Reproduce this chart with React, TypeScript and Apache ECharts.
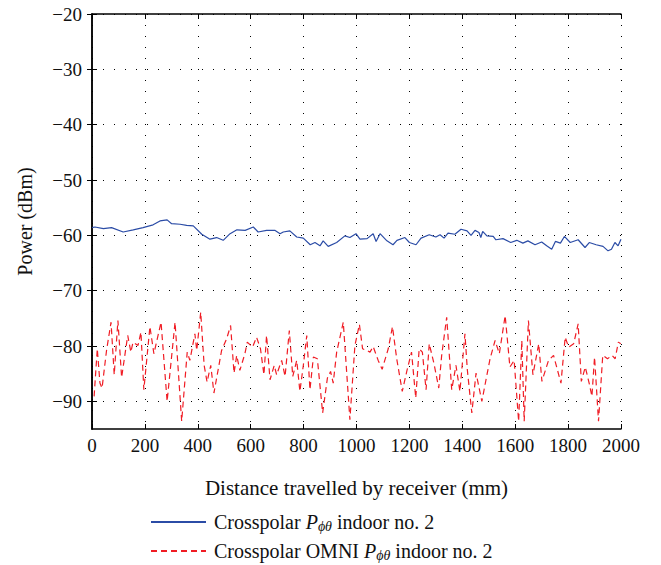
import React, { useEffect, useRef } from "react";
import * as echarts from "echarts";

const xTicks = [0, 200, 400, 600, 800, 1000, 1200, 1400, 1600, 1800, 2000];
const yTicks = [-20, -30, -40, -50, -60, -70, -80, -90];

const blueX = [0, 11, 43, 74, 118, 156, 193, 231, 257, 284, 301, 333, 358, 383, 415, 446, 471, 496, 522, 548, 579, 610, 628, 660, 691, 711, 723, 748, 774, 799, 825, 843, 862, 874, 893, 925, 956, 975, 998, 1013, 1040, 1063, 1074, 1089, 1115, 1138, 1153, 1183, 1200, 1225, 1244, 1275, 1300, 1316, 1331, 1346, 1372, 1395, 1418, 1433, 1448, 1463, 1470, 1477, 1493, 1517, 1527, 1554, 1583, 1606, 1629, 1648, 1675, 1700, 1719, 1738, 1752, 1771, 1786, 1808, 1838, 1864, 1880, 1906, 1932, 1951, 1964, 1977, 1989, 2000];
const blueY = [-58.6, -58.5, -58.8, -58.6, -59.4, -59.0, -58.6, -58.1, -57.4, -57.2, -57.9, -58.0, -58.2, -58.3, -59.8, -60.7, -60.4, -60.9, -59.7, -59.0, -59.1, -58.5, -59.4, -59.1, -59.1, -59.7, -59.4, -59.2, -60.3, -60.5, -61.7, -61.3, -61.9, -61.0, -62.0, -61.3, -60.1, -60.4, -59.7, -60.7, -60.6, -59.7, -61.1, -59.7, -61.0, -61.7, -60.9, -60.4, -61.3, -61.7, -60.5, -59.9, -60.3, -59.9, -60.5, -59.6, -59.8, -58.9, -59.2, -60.0, -59.1, -59.5, -60.4, -59.3, -60.1, -60.2, -60.8, -60.6, -61.3, -60.9, -61.4, -61.0, -61.7, -61.2, -61.9, -62.5, -61.1, -61.4, -60.2, -61.3, -60.8, -62.2, -61.3, -61.7, -62.0, -62.8, -62.5, -61.3, -61.9, -60.7];

const redX = [8, 20, 30, 38, 55, 72, 84, 98, 112, 135, 147, 155, 174, 185, 196, 219, 234, 261, 284, 314, 339, 360, 370, 389, 396, 411, 424, 435, 449, 461, 490, 509, 524, 537, 547, 559, 578, 587, 607, 622, 637, 650, 660, 673, 689, 698, 717, 730, 746, 759, 774, 786, 799, 812, 824, 837, 852, 872, 890, 902, 912, 925, 950, 975, 994, 1011, 1023, 1038, 1051, 1063, 1082, 1097, 1120, 1136, 1152, 1173, 1190, 1208, 1224, 1237, 1249, 1263, 1275, 1293, 1311, 1322, 1341, 1360, 1376, 1391, 1410, 1419, 1436, 1452, 1474, 1492, 1505, 1524, 1540, 1562, 1580, 1596, 1613, 1625, 1634, 1650, 1667, 1689, 1701, 1726, 1745, 1773, 1789, 1802, 1821, 1838, 1850, 1865, 1881, 1890, 1900, 1915, 1931, 1949, 1966, 1978, 1990, 1999];
const redY = [-89.1, -80.5, -86.7, -87.6, -80.8, -75.7, -85.2, -75.4, -85.7, -78.1, -81.1, -79.3, -79.9, -77.5, -87.9, -76.5, -81.4, -75.7, -90.0, -75.7, -93.6, -81.1, -82.6, -77.8, -80.8, -73.9, -83.5, -86.5, -83.5, -88.5, -80.8, -78.7, -76.3, -84.9, -81.7, -84.4, -81.4, -79.3, -80.2, -78.4, -80.5, -85.2, -78.1, -86.1, -83.5, -85.2, -82.6, -85.5, -77.2, -85.5, -82.6, -88.2, -83.5, -78.1, -87.9, -82.0, -82.3, -92.1, -85.8, -84.6, -86.7, -81.1, -75.7, -93.3, -79.9, -76.1, -80.5, -80.8, -81.1, -80.1, -82.6, -84.2, -80.5, -76.5, -82.3, -88.2, -84.6, -81.1, -89.4, -80.5, -81.1, -87.9, -79.6, -83.2, -87.6, -81.7, -74.8, -87.9, -83.5, -88.2, -77.8, -84.3, -92.1, -84.9, -90.0, -85.5, -82.3, -79.0, -81.4, -74.5, -83.8, -82.6, -93.6, -79.0, -93.6, -75.4, -85.2, -79.6, -86.4, -82.6, -81.7, -86.7, -78.4, -80.2, -79.6, -76.0, -86.4, -83.8, -87.0, -89.1, -82.0, -93.6, -81.7, -82.3, -81.7, -82.3, -79.3, -79.6];

const blueName = "blue";
const redName = "red";
const FONT = "'Liberation Serif', 'Times New Roman', serif";

export default function App() {
  const ref = useRef<HTMLDivElement>(null);
  useEffect(() => {
    const chart = echarts.init(ref.current!, undefined, { renderer: "svg" });
    const minus = (v: number) => (v < 0 ? "\u2212" + Math.abs(v) : String(v));
    const blueData = blueX.map((x, i) => [x, blueY[i]]);
    const redData = redX.map((x, i) => [x, redY[i]]);
    const rich = {
      n: { fontFamily: FONT, fontSize: 20, color: "#111" },
      i: { fontFamily: FONT, fontSize: 20, fontStyle: "italic", color: "#111" },
      s: { fontFamily: FONT, fontSize: 14, fontStyle: "italic", color: "#111", padding: [9, 0, 0, 0] },
    };
    const dotted = { show: true, lineStyle: { color: "#000", width: 1, type: [1, 10] as any } };
    const tick = { show: true, inside: true, length: 5, lineStyle: { color: "#000" } };
    const legendBase = {
      orient: "horizontal",
      left: 150,
      itemWidth: 55,
      itemHeight: 14,
      padding: 0,
      itemStyle: { opacity: 0 },
      formatter: (name: string) =>
        name === blueName
          ? "{n|Crosspolar }{i|P}{s|ϕθ}{n| indoor no. 2}"
          : "{n|Crosspolar OMNI }{i|P}{s|ϕθ}{n| indoor no. 2}",
      textStyle: { fontFamily: FONT, fontSize: 20, color: "#111", rich, padding: [0, 0, 0, 3] },
    };
    chart.setOption({
      animation: false,
      backgroundColor: "#fff",
      textStyle: { fontFamily: FONT },
      grid: { left: 92, right: 40, top: 14, bottom: 136 },
      legend: [
        { ...legendBase, top: 512, data: [blueName] },
        { ...legendBase, top: 541, data: [redName] },
      ],
      xAxis: [
        {
          type: "value",
          min: 0,
          max: 2000,
          interval: 200,
          name: "Distance travelled by receiver (mm)",
          nameLocation: "middle",
          nameGap: 48,
          nameTextStyle: { fontFamily: FONT, fontSize: 21, color: "#111" },
          axisLine: { show: true, lineStyle: { color: "#000", width: 1.5 } },
          axisTick: { ...tick, customValues: xTicks },
          axisLabel: {
            fontFamily: FONT,
            fontSize: 19,
            color: "#111",
            margin: 7,
            customValues: xTicks,
            formatter: (v: number) => String(v),
          },
          splitLine: dotted,
        },
        {
          type: "value",
          position: "top",
          min: 0,
          max: 2000,
          interval: 200,
          axisLine: { show: true, lineStyle: { color: "#000", width: 1.5 } },
          axisTick: { ...tick, customValues: xTicks },
          axisLabel: { show: false },
          splitLine: { show: false },
        },
      ],
      yAxis: [
        {
          type: "value",
          min: -95,
          max: -20,
          name: "Power (dBm)",
          nameLocation: "middle",
          nameGap: 57,
          nameTextStyle: { fontFamily: FONT, fontSize: 20, color: "#111" },
          axisLine: { show: true, lineStyle: { color: "#000", width: 1.5 } },
          axisTick: { ...tick, customValues: yTicks },
          axisLabel: {
            fontFamily: FONT,
            fontSize: 19,
            color: "#111",
            margin: 10,
            customValues: yTicks,
            formatter: (v: number) => minus(v),
          },
          splitLine: dotted,
        },
        {
          type: "value",
          position: "right",
          min: -95,
          max: -20,
          axisLine: { show: true, lineStyle: { color: "#000", width: 1.5 } },
          axisTick: { ...tick, customValues: yTicks },
          axisLabel: { show: false },
          splitLine: { show: false },
        },
      ],
      series: [
        {
          name: blueName,
          type: "line",
          data: blueData,
          showSymbol: false,
          symbol: "none",
          lineStyle: { color: "#2b4ca6", width: 1.2 },
          itemStyle: { color: "#2b4ca6" },
        },
        {
          name: redName,
          type: "line",
          data: redData,
          showSymbol: false,
          symbol: "none",
          lineStyle: { color: "#f01c24", width: 1.2, type: [6, 4] },
          itemStyle: { color: "#f01c24" },
        },
      ],
    });
    return () => chart.dispose();
  }, []);
  return (
    <div
      ref={ref}
      style={{ position: "fixed", left: 0, top: 0, width: 661, height: 565, background: "#fff" }}
    />
  );
}
